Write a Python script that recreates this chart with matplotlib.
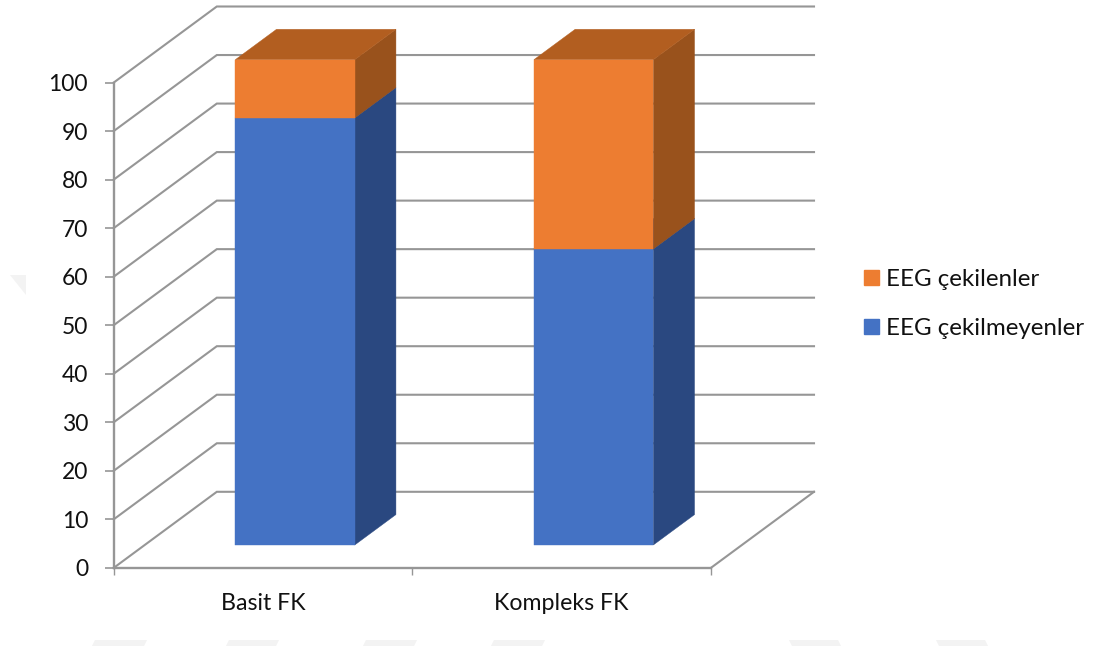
import matplotlib
matplotlib.use("Agg")
import matplotlib.pyplot as plt
from matplotlib.patches import Patch, Polygon

# Daten
categories = ["Basit FK", "Kompleks FK"]
eeg_yok = [88, 61]
eeg_var = [12, 39]
series_labels = ["EEG çekilmeyenler", "EEG çekilenler"]
value_ticks = list(range(0, 101, 10))

W, H = 1095, 646
GRAY = "#969696"
SHADE = "#f3f3f3"

# Tiefenversatz der Rueckwand in Achseneinheiten
CAT_PX = 298.6
VAL_PX = 4.853
DEPTH_X = 103 / CAT_PX
DEPTH_Y = 76 / VAL_PX
BAR_START = 0.3034
BAR_END = 0.7034
DEPTH_FRONT = 0.3
DEPTH_BACK = 0.7

# Blasse Flecken im Hintergrund (Pixel)
shade_spots = [
    [(10, 275), (26, 275), (26, 295)],
    [(92, 646), (95, 640), (147, 640), (144, 646)],
    [(226, 646), (229, 640), (279, 640), (276, 646)],
    [(363, 646), (366, 640), (417, 640), (414, 646)],
    [(491, 646), (494, 640), (545, 640), (542, 646)],
    [(789, 640), (838, 640), (841, 646), (792, 646)],
    [(936, 640), (985, 640), (988, 646), (939, 646)],
]


def project(cat, value, depth):
    return cat + depth * DEPTH_X, value + depth * DEPTH_Y


def draw_box(ax, cat, bottom, top, front, side, roof):
    x0, x1 = cat + BAR_START, cat + BAR_END
    a, b = DEPTH_FRONT, DEPTH_BACK
    faces = [
        ([(x1, bottom, a), (x1, bottom, b), (x1, top, b), (x1, top, a)], side),
        ([(x0, top, a), (x1, top, a), (x1, top, b), (x0, top, b)], roof),
        ([(x0, bottom, a), (x1, bottom, a), (x1, top, a), (x0, top, a)], front),
    ]
    for corners, color in faces:
        pts = [project(*c) for c in corners]
        ax.add_patch(Polygon(pts, closed=True, facecolor=color, edgecolor=color,
                             linewidth=0.3, zorder=3))


plt.rcParams["font.family"] = ["Lato", "DejaVu Sans"]
fig = plt.figure(figsize=(W / 100, H / 100), dpi=100)

for spot in shade_spots:
    pts = [(x / W, 1 - y / H) for x, y in spot]
    fig.add_artist(Polygon(pts, closed=True, transform=fig.transFigure,
                           facecolor=SHADE, edgecolor="none", zorder=0))

left, bottom = 113.8, 567.8
xmax = 2 + DEPTH_X
ymax = 100 + DEPTH_Y
ax = fig.add_axes([left / W, 1 - bottom / H, xmax * CAT_PX / W, ymax * VAL_PX / H])
ax.patch.set_visible(False)
ax.set_xlim(0, xmax)
ax.set_ylim(0, ymax)
for name in ["top", "right"]:
    ax.spines[name].set_visible(False)
for name in ["left", "bottom"]:
    ax.spines[name].set_color(GRAY)
    ax.spines[name].set_linewidth(1.7)
ax.spines["left"].set_bounds(0, 100)
ax.spines["bottom"].set_bounds(0, 2)

# Gitterlinien: Seitenwand und Rueckwand
for v in value_ticks:
    x_back, y_back = project(0, v, 1)
    x_end, _ = project(2, v, 1)
    ax.plot([0, x_back, x_end], [v, y_back, y_back], color=GRAY, lw=1.5,
            solid_joinstyle="miter", zorder=1, clip_on=False)
# Rechte Bodenkante
ax.plot([2, 2 + DEPTH_X], [0, DEPTH_Y], color=GRAY, lw=1.5, zorder=1, clip_on=False)

# Gestapelte Saeulen
for i in range(len(categories)):
    draw_box(ax, i, 0, eeg_yok[i], "#4472C4", "#2A4880", "#335AA0")
    draw_box(ax, i, eeg_yok[i], eeg_yok[i] + eeg_var[i], "#ED7D31", "#99521C", "#B25E20")

# Achsen
ax.set_yticks(value_ticks)
ax.tick_params(axis="y", length=6.5, width=1.2, color=GRAY, labelsize=16.5, pad=12,
               labelcolor="#111111")
ax.set_xticks(range(len(categories) + 1))
ax.set_xticklabels([])
ax.tick_params(axis="x", which="major", length=5, width=1.0, color=GRAY)
ax.set_xticks([i + 0.5 for i in range(len(categories))], minor=True)
ax.set_xticklabels(categories, minor=True)
ax.tick_params(axis="x", which="minor", length=0, labelsize=16.7, pad=18,
               labelcolor="#111111")

# Legende
handles = [Patch(color="#ED7D31"), Patch(color="#4472C4")]
fig.legend(handles, [series_labels[1], series_labels[0]], frameon=False,
           loc="center left", bbox_to_anchor=(864 / W, 1 - 304 / H), fontsize=17.4,
           handlelength=0.62, handleheight=0.62, handletextpad=0.29, labelspacing=1.16,
           labelcolor="#111111", borderaxespad=0, borderpad=0)

fig.savefig("out.png", dpi=100, facecolor="white")
